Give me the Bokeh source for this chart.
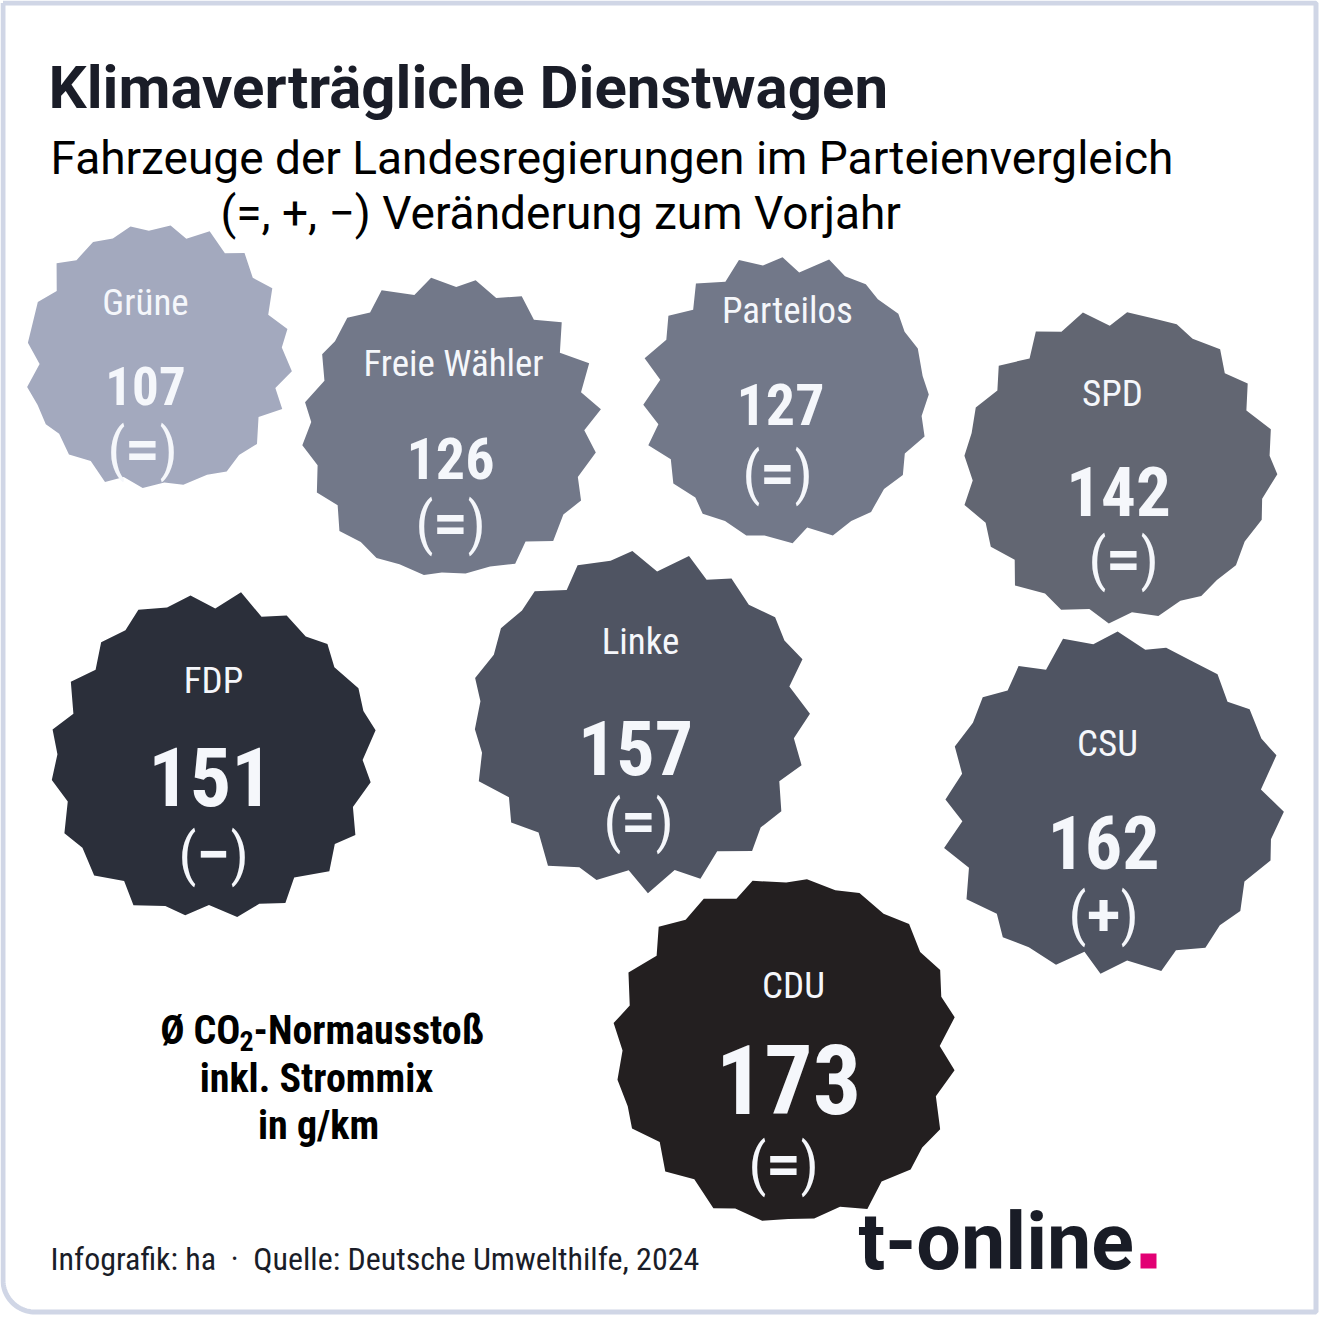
import numpy as np
from bokeh.plotting import figure
from bokeh.models import ColumnDataSource, Range1d
from bokeh.core.properties import value
from bokeh.embed import file_html
from bokeh.resources import INLINE

# ---------------- data ----------------
parties = ["Grüne", "Freie Wähler", "Parteilos", "SPD", "FDP", "Linke", "CSU", "CDU"]
co2_g_km = [107, 126, 127, 142, 151, 157, 162, 173]
change = ["=", "=", "=", "=", "−", "=", "+", "="]

title = "Klimaverträgliche Dienstwagen"
subtitle_1 = "Fahrzeuge der Landesregierungen im Parteienvergleich"
subtitle_2 = "(=, +, −) Veränderung zum Vorjahr"
unit_head = ["Ø CO", "2", "-Normausstoß"]
unit_lines = ["inkl. Strommix", "in g/km"]
footer = "Infografik: ha\u00a0\u00a0·\u00a0\u00a0Quelle: Deutsche Umwelthilfe, 2024"
logo = "t-online"

# ---------------- layout / style ----------------
colors = ["#a3a9be", "#727889", "#727889", "#626672", "#2b2f3a", "#4f5462", "#4f5462", "#231f20"]
cx = [157, 449, 785, 1119, 212, 641, 1111, 786]
cy = [355, 427, 398, 465, 757, 720, 804, 1050]
rad = [137, 154, 147, 160, 168, 174, 174, 178]
name_x = [145, 453, 787, 1112, 213, 640, 1107, 793]
name_y = [302, 363, 310, 393, 680, 641, 743, 985]
val_x = [145, 450, 780, 1118, 210, 635, 1103, 788]
val_y = [385, 458, 404, 491, 776, 747, 842, 1079]
val_px = [53, 58, 58, 69, 82, 76, 74, 96]
chg_x = [142, 450, 777, 1123, 213, 638, 1103, 783]
chg_y = [448, 522, 472, 558, 853, 820, 913, 1163]

COND = "Roboto Condensed"
TXT = "#f5f7fb"
DARK = "#1a1d28"
W, H = 1319, 1318


def pseudo(k, seed):
    v = np.sin(k * 12.9898 + seed * 78.233) * 43758.5453
    return v - np.floor(v)


def blob(x0, y0, r, seed, n=20):
    k = np.arange(2 * n)
    step = np.pi / n
    ang = k * step + seed * 0.41 + 0.3 * step * (pseudo(k, seed + 0.5) - 0.5)
    outer = 1.0 - 0.05 * pseudo(k, seed)
    inner = 0.86 + 0.09 * pseudo(k + 100, seed)
    rr = np.where(k % 2 == 0, outer, np.minimum(inner, outer - 0.01)) * r
    return list(x0 + rr * np.cos(ang)), list(y0 + rr * np.sin(ang))


xs, ys = [], []
for i in range(len(parties)):
    bx, by = blob(cx[i], cy[i], rad[i], i + 1)
    xs.append(bx)
    ys.append(by)

p = figure(width=W, height=H, x_range=Range1d(0, W), y_range=Range1d(H, 0),
           output_backend="svg", toolbar_location=None, min_border=0,
           x_axis_type=None, y_axis_type=None)
p.grid.visible = False
p.outline_line_color = None
p.background_fill_color = "white"
p.border_fill_color = "white"

# border frame (rounded bottom-left corner)
R = 32
t = np.linspace(np.pi / 2, np.pi, 24)
fx = [2.5, 1315.5, 1315.5] + list(2.5 + R + R * np.cos(t)) + [2.5]
fy = [2.5, 2.5, 1311.5] + list(1311.5 - R + R * np.sin(t)) + [2.5]
p.line(fx, fy, line_color="#d0d6e6", line_width=5)

p.patches(xs, ys, fill_color=colors, line_color=None)

src = ColumnDataSource(dict(
    name=parties, nx=name_x, ny=name_y,
    val=[str(v) for v in co2_g_km], vx=val_x, vy=val_y, vpx=[f"{s}px" for s in val_px],
    chg=change, cgx=chg_x, cgy=chg_y,
    lpx=[x - 26 for x in chg_x], rpx=[x + 26 for x in chg_x],
    lp=["("] * len(parties), rp=[")"] * len(parties),
))

p.text(x="nx", y="ny", text="name", source=src, text_font=value(COND), text_font_size="37px",
       text_color=TXT, text_align="center", text_baseline="middle")
p.text(x="vx", y="vy", text="val", source=src, text_font=value(COND), text_font_size="vpx",
       text_font_style="bold", text_color=TXT, text_align="center", text_baseline="middle")
p.text(x="cgx", y="cgy", text="chg", source=src, text_font=value("Roboto"), text_font_size="60px",
       text_font_style="bold", text_color=TXT, text_align="center", text_baseline="middle")
p.text(x="lpx", y="cgy", text="lp", source=src, text_font=value(COND), text_font_size="58px",
       text_color=TXT, text_align="center", text_baseline="middle")
p.text(x="rpx", y="cgy", text="rp", source=src, text_font=value(COND), text_font_size="58px",
       text_color=TXT, text_align="center", text_baseline="middle")

# titles
p.text(x=[48], y=[87], text=[title], text_font=value("Roboto"), text_font_size="60px",
       text_font_style="bold", text_color=DARK, text_baseline="middle")
p.text(x=[50], y=[157], text=[subtitle_1], text_font=value("Roboto"), text_font_size="46px",
       text_color="#000000", text_baseline="middle")
p.text(x=[220], y=[212], text=[subtitle_2], text_font=value("Roboto"), text_font_size="46px",
       text_color="#000000", text_baseline="middle")

# unit note
p.text(x=[240], y=[1030], text=[unit_head[0]], text_font=value(COND), text_font_size="40px",
       text_font_style="bold", text_color="#000000", text_align="right", text_baseline="middle")
p.text(x=[246], y=[1040], text=[unit_head[1]], text_font=value(COND), text_font_size="28px",
       text_font_style="bold", text_color="#000000", text_align="center", text_baseline="middle")
p.text(x=[253], y=[1030], text=[unit_head[2]], text_font=value(COND), text_font_size="40px",
       text_font_style="bold", text_color="#000000", text_align="left", text_baseline="middle")
p.text(x=[316, 318], y=[1078, 1125], text=unit_lines, text_font=value(COND),
       text_font_size="40px", text_font_style="bold", text_color="#000000",
       text_align="center", text_baseline="middle")

# footer
p.text(x=[50], y=[1258], text=[footer], text_font=value(COND), text_font_size="32px",
       text_color=DARK, text_baseline="middle")

# logo
p.text(x=[858], y=[1241], text=[logo], text_font=value("Roboto"), text_font_size="79px",
       text_font_style="bold", text_color="#191c26", text_baseline="middle")
p.quad(left=[1140], right=[1156], top=[1253], bottom=[1268], fill_color="#e20074", line_color=None)

open("out.html", "w").write(file_html(p, INLINE))
